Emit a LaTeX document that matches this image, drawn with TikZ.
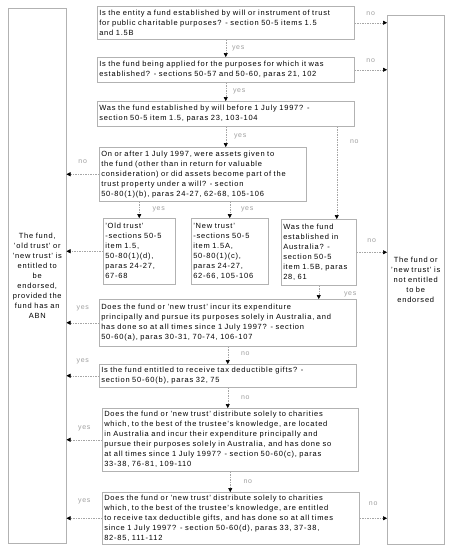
\documentclass[tikz,border=0pt]{standalone}
\usepackage{fontspec}
\setmainfont{Liberation Sans}[LetterSpace=10.5]
\usetikzlibrary{arrows.meta}

\begin{document}
\begin{tikzpicture}[
  x=1pt, y=-1pt,
  qbox/.style={draw=gray!60, line width=0.5pt, anchor=north west, align=left,
    inner sep=2pt, font=\fontsize{7.5}{10}\selectfont},
  endbox/.style={qbox, align=center},
  arr/.style={draw=gray!70, line width=0.5pt, dash pattern=on 1.5pt off 1pt,
    -{Triangle[width=4pt, length=4pt, color=black]}},
  lbl/.style={font=\fontsize{7}{8}\selectfont, text=gray!75, inner sep=1pt},
]
  \useasboundingbox (0,0) rectangle (452,552);

  \node[endbox, text width=54pt, minimum height=535pt] (yesend) at (8,8)
    {The fund,\\'old trust' or\\'new trust' is\\entitled to\\be\\endorsed,\\provided the\\fund has an\\ABN};
  \node[endbox, text width=53pt, minimum height=529pt] (noend) at (387,15)
    {The fund or\\'new trust' is\\not entitled\\to be\\endorsed};

  \node[qbox, text width=253pt, minimum height=33pt] (q1) at (97,6)
    {Is the entity a fund established by will or instrument of trust\\for public charitable purposes? - section 50-5 items 1.5\\and 1.5B};
  \node[qbox, text width=253pt, minimum height=25pt] (q2) at (97,57)
    {Is the fund being applied for the purposes for which it was\\established? - sections 50-57 and 50-60, paras 21, 102};
  \node[qbox, text width=253pt, minimum height=25pt] (q3) at (97,101)
    {Was the fund established by will before 1 July 1997? -\\section 50-5 item 1.5, paras 23, 103-104};
  \node[qbox, text width=203pt, minimum height=54pt] (q4) at (99,147)
    {On or after 1 July 1997, were assets given to\\the fund (other than in return for valuable\\consideration) or did assets become part of the\\trust property under a will? - section\\50-80(1)(b), paras 24-27, 62-68, 105-106};
  \node[qbox, text width=68pt, minimum height=66pt] (old) at (103,218)
    {'Old trust'\\ -sections 50-5\\item 1.5,\\50-80(1)(d),\\paras 24-27,\\67-68};
  \node[qbox, text width=73pt, minimum height=66pt] (new) at (191,218)
    {'New trust'\\-sections 50-5\\item 1.5A,\\50-80(1)(c),\\paras 24-27,\\62-66, 105-106};
  \node[qbox, text width=71pt, minimum height=66pt] (aus) at (281,219)
    {Was the fund\\established in\\Australia? -\\section 50-5\\item 1.5B, paras\\28, 61};
  \node[qbox, text width=253pt, minimum height=47pt] (q5) at (99,299)
    {Does the fund or 'new trust' incur its expenditure\\principally and pursue its purposes solely in Australia, and\\has done so at all times since 1 July 1997? - section\\50-60(a), paras 30-31, 70-74, 106-107};
  \node[qbox, text width=253pt, minimum height=23pt] (q6) at (99,364)
    {Is the fund entitled to receive tax deductible gifts? -\\section 50-60(b), paras 32, 75};
  \node[qbox, text width=252pt, minimum height=63pt] (q7) at (102,408)
    {Does the fund or 'new trust' distribute solely to charities\\which, to the best of the trustee's knowledge, are located\\in Australia and incur their expenditure principally and\\pursue their purposes solely in Australia, and has done so\\at all times since 1 July 1997? - section 50-60(c), paras\\33-38, 76-81, 109-110};
  \node[qbox, text width=253pt, minimum height=52pt] (q8) at (102,492)
    {Does the fund or 'new trust' distribute solely to charities\\which, to the best of the trustee's knowledge, are entitled\\to receive tax deductible gifts, and has done so at all times\\since 1 July 1997? - section 50-60(d), paras 33, 37-38,\\82-85, 111-112};

  \coordinate (ausin) at ([xshift=18pt]aus.north);

  \draw[arr] (q1.east) -- (q1.east -| noend.west) node[lbl, midway, above=6pt] {no};
  \draw[arr] (q2.east) -- (q2.east -| noend.west) node[lbl, midway, above=6pt] {no};
  \draw[arr] (aus.east) -- (aus.east -| noend.west) node[lbl, midway, above=8pt] {no};
  \draw[arr] (q8.east) -- (q8.east -| noend.west) node[lbl, midway, above=11pt] {no};

  \draw[arr] (q4.west) -- (q4.west -| yesend.east) node[lbl, midway, above=9pt] {no};
  \draw[arr] (old.west) -- (old.west -| yesend.east);
  \draw[arr] (q5.west) -- (q5.west -| yesend.east) node[lbl, midway, above=11pt] {yes};
  \draw[arr] (q6.west) -- (q6.west -| yesend.east) node[lbl, midway, above=11pt] {yes};
  \draw[arr] (q7.west) -- (q7.west -| yesend.east) node[lbl, midway, above=8pt] {yes};
  \draw[arr] (q8.west) -- (q8.west -| yesend.east) node[lbl, midway, above=13pt] {yes};

  \draw[arr] (q1.south) -- (q2.north) node[lbl, midway, right=5pt] {yes};
  \draw[arr] (q2.south) -- (q3.north) node[lbl, midway, right=6pt] {yes};
  \draw[arr] (q3.south) -- (q3.south |- q4.north) node[lbl, midway, right=7pt] {yes};
  \draw[arr] (q3.south -| ausin) -- (ausin) node[lbl, pos=0.16, right=12pt] {no};
  \draw[arr] (old.north |- q4.south) -- (old.north) node[lbl, midway, right=12pt] {yes};
  \draw[arr] (new.north |- q4.south) -- (new.north) node[lbl, midway, right=10pt] {yes};
  \draw[arr] (aus.south) -- (aus.south |- q5.north) node[lbl, pos=0.65, right=24pt] {yes};
  \draw[arr] (q5.south) -- (q5.south |- q6.north) node[lbl, pos=0.4, right=12pt] {no};
  \draw[arr] (q6.south) -- (q6.south |- q7.north) node[lbl, midway, right=12pt] {no};
  \draw[arr] (q7.south) -- (q7.south |- q8.north) node[lbl, midway, right=12pt] {no};
\end{tikzpicture}
\end{document}
